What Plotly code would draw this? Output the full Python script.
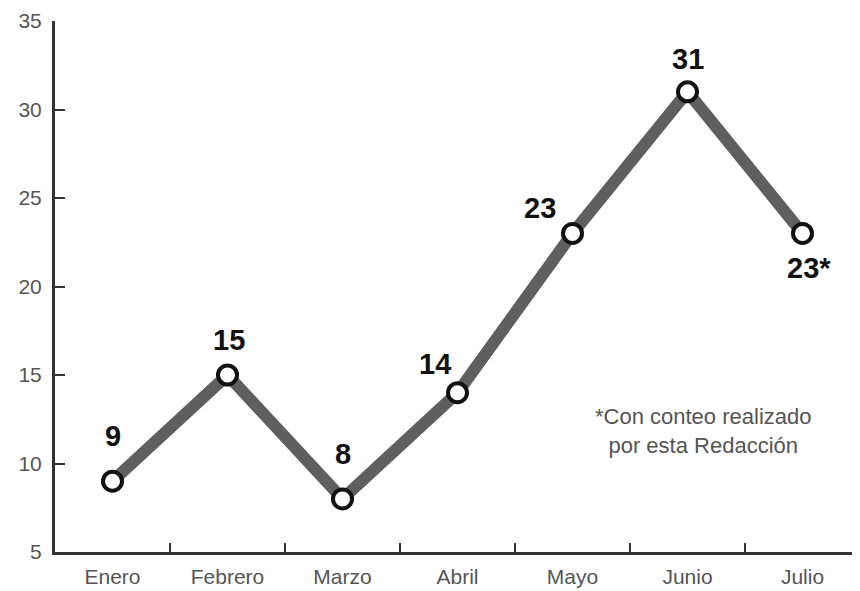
import plotly.graph_objects as go

months = ["Enero", "Febrero", "Marzo", "Abril", "Mayo", "Junio", "Julio"]
values = [9, 15, 8, 14, 23, 31, 23]
labels = ["9", "15", "8", "14", "23", "31", "23*"]
y_ticks = [5, 10, 15, 20, 25, 30, 35]
note = "*Con conteo realizado<br>por esta Redacción"

# label offsets in pixels (style only)
label_dx = [0, 1, 0, -23, -33, 0, 6]
label_dy = [45, 35, 45, 29, 25, 33, -35]

fig = go.Figure()
fig.add_trace(go.Scatter(
    x=months, y=values,
    mode="lines+markers",
    line=dict(color="#5f5f5f", width=12),
    marker=dict(size=19, color="white", line=dict(color="#111111", width=4)),
    cliponaxis=False,
    showlegend=False,
))

for m, v, t, dx, dy in zip(months, values, labels, label_dx, label_dy):
    fig.add_annotation(
        x=m, y=v, xref="x", yref="y", text=t, showarrow=False,
        xshift=dx, yshift=dy,
        font=dict(family="Liberation Sans", size=29, color="#111111", weight="bold"),
    )

fig.add_annotation(
    x=5.135, y=11.85, xref="x", yref="y",
    text=note, showarrow=False, align="center",
    font=dict(family="Liberation Sans Narrow, Liberation Sans", size=22, color="#555555"),
)

fig.update_xaxes(
    range=[-0.5, 6.5],
    tickson="boundaries",
    ticks="inside", ticklen=9, tickwidth=2, tickcolor="#333333",
    showline=True, linecolor="#333333", linewidth=3,
    showgrid=False, zeroline=False, automargin=False,
    ticklabelstandoff=4,
    tickfont=dict(family="Liberation Sans Narrow, Liberation Sans", size=21, color="#555555"),
)
fig.update_yaxes(
    range=[5, 35],
    tickvals=y_ticks,
    ticks="inside", ticklen=10, tickwidth=2, tickcolor="#333333",
    showline=True, linecolor="#333333", linewidth=3,
    showgrid=False, zeroline=False, automargin=False,
    ticklabelstandoff=6,
    tickfont=dict(family="Liberation Sans Narrow, Liberation Sans", size=21, color="#555555"),
)

# the page body adds an 8px margin, so the figure is sized to fit the window
fig.update_layout(
    width=852, height=583,
    margin=dict(l=47, r=0, t=13, b=39),
    plot_bgcolor="white", paper_bgcolor="white",
)

fig.write_html("out.html")
